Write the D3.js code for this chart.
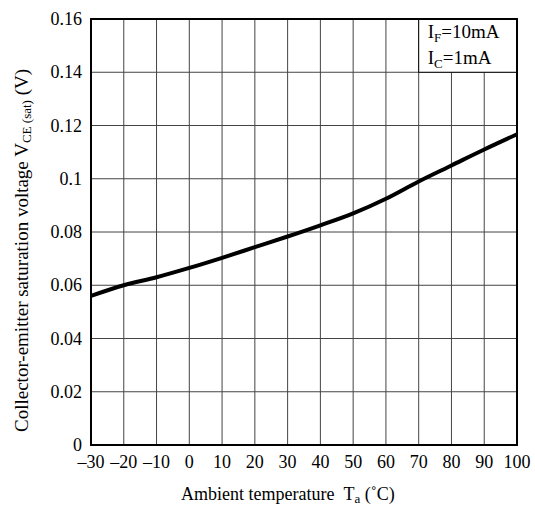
<!DOCTYPE html>
<html lang="en">
<head>
    <meta charset="UTF-8">
    <title>VCE(sat) vs Ta</title>
    <style>
        body { margin: 0; background: #fff; }
        svg { display: block; font-family: "Liberation Serif", "DejaVu Serif", serif; }
    </style>
</head>
<body>
    <div id="chart"></div>
    <script src="https://d3js.org/d3.v7.min.js"></script>
    <script>
        const width = 535;
        const height = 506;
        const margin = { top: 19, right: 18, bottom: 61, left: 91 };

        // data
        const temps = [-30, -20, -10, 0, 10, 20, 30, 40, 50, 60, 70, 80, 90, 100];
        const vce = [0.056, 0.060, 0.063, 0.0665, 0.0703, 0.0743, 0.0783, 0.0825, 0.087, 0.0925, 0.099, 0.105, 0.111, 0.1167];
        const xTicks = [-30, -20, -10, 0, 10, 20, 30, 40, 50, 60, 70, 80, 90, 100];
        const yTicks = [0, 0.02, 0.04, 0.06, 0.08, 0.1, 0.12, 0.14, 0.16];
        const yTickLabels = ["0", "0.02", "0.04", "0.06", "0.08", "0.1", "0.12", "0.14", "0.16"];

        const svg = d3.select("#chart").append("svg")
            .attr("width", width)
            .attr("height", height);

        const x = d3.scaleLinear().domain([-30, 100]).range([margin.left, width - margin.right]);
        const y = d3.scaleLinear().domain([0, 0.16]).range([height - margin.bottom, margin.top]);

        // grid
        svg.append("g").selectAll("line.v")
            .data(xTicks.slice(1, -1))
            .enter().append("line")
            .attr("x1", d => x(d)).attr("x2", d => x(d))
            .attr("y1", y(0)).attr("y2", y(0.16))
            .attr("stroke", "#444").attr("stroke-width", 1);
        svg.append("g").selectAll("line.h")
            .data(yTicks.slice(1, -1))
            .enter().append("line")
            .attr("x1", x(-30)).attr("x2", x(100))
            .attr("y1", d => y(d)).attr("y2", d => y(d))
            .attr("stroke", "#444").attr("stroke-width", 1);

        // legend box over the grid
        svg.append("rect")
            .attr("x", x(70)).attr("y", y(0.16))
            .attr("width", x(100) - x(70)).attr("height", y(0.14) - y(0.16))
            .attr("fill", "#fff").attr("stroke", "#000").attr("stroke-width", 1);

        const leg = [["F", "=10mA"], ["C", "=1mA"]];
        leg.forEach((l, i) => {
            const t = svg.append("text")
                .attr("x", x(70) + 9).attr("y", y(0.16) + 19 + i * 26)
                .attr("font-size", 19);
            t.append("tspan").text("I");
            t.append("tspan").attr("font-size", 13).attr("dy", 4).text(l[0]);
            t.append("tspan").attr("dy", -4).text(l[1]);
        });

        // curve
        const line = d3.line()
            .x((d, i) => x(temps[i]))
            .y(d => y(d))
            .curve(d3.curveCatmullRom);
        svg.append("path")
            .datum(vce)
            .attr("fill", "none")
            .attr("stroke", "#000")
            .attr("stroke-width", 4)
            .attr("d", line);

        // frame
        svg.append("rect")
            .attr("x", x(-30)).attr("y", y(0.16))
            .attr("width", x(100) - x(-30)).attr("height", y(0) - y(0.16))
            .attr("fill", "none").attr("stroke", "#000").attr("stroke-width", 2);

        // tick labels
        svg.append("g").selectAll("text")
            .data(xTicks)
            .enter().append("text")
            .attr("x", d => x(d))
            .attr("y", y(0) + 23)
            .attr("text-anchor", "middle")
            .attr("font-size", 18)
            .text(d => d < 0 ? "\u2013" + Math.abs(d) : d);

        svg.append("g").selectAll("text")
            .data(yTicks)
            .enter().append("text")
            .attr("x", x(-30) - 9)
            .attr("y", d => y(d) + 6)
            .attr("text-anchor", "end")
            .attr("font-size", 18)
            .text((d, i) => yTickLabels[i]);

        // axis titles
        const xt = svg.append("text")
            .attr("x", 181).attr("y", 500)
            .attr("font-size", 18);
        xt.append("tspan").text("Ambient temperature\u00a0\u00a0T");
        xt.append("tspan").attr("font-size", 13).attr("dy", 3).text("a");
        xt.append("tspan").attr("dy", -3).text(" (\u02daC)");

        const yt = svg.append("text")
            .attr("transform", "translate(28, 432) rotate(-90)")
            .attr("font-size", 19);
        yt.append("tspan").text("Collector-emitter saturation voltage V");
        yt.append("tspan").attr("font-size", 13).attr("dy", 3).text("CE (sat)");
        yt.append("tspan").attr("dy", -3).text(" (V)");
    </script>
</body>
</html>
